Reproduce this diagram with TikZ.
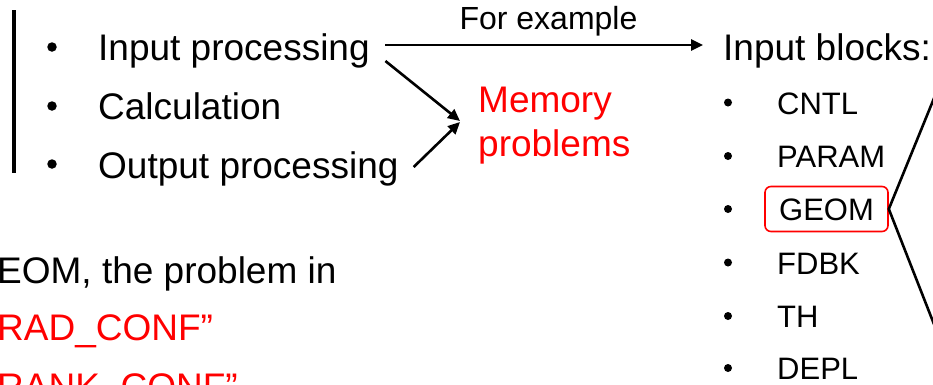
\documentclass[tikz,border=0pt]{standalone}
\usepackage{fontspec}
\setmainfont{Liberation Sans}
\usetikzlibrary{arrows.meta}
\definecolor{pptred}{RGB}{255,0,0}
\tikzset{
  big/.style={font=\fontsize{37}{44}\selectfont, inner sep=0pt, anchor=base west},
  small/.style={font=\fontsize{31}{37}\selectfont, inner sep=0pt, anchor=base west},
  lbl/.style={font=\fontsize{32}{38}\selectfont, inner sep=0pt, anchor=base},
  bul/.style={circle, fill=black, inner sep=0pt, minimum size=9.5pt},
  sbul/.style={circle, fill=black, inner sep=0pt, minimum size=8pt},
  arr/.style={line width=2.6pt, -{Triangle[length=12pt,width=11pt]}},
  ln/.style={line width=2.6pt},
  hl/.style={draw=pptred, line width=1.6pt, rounded corners=6pt, font=\fontsize{31}{37}\selectfont,
             inner ysep=11pt, inner xsep=0pt, text height=23pt, text depth=0pt, minimum width=123pt, anchor=base}
}
\begin{document}
\begin{tikzpicture}[x=1pt,y=-1pt]
\useasboundingbox (0,0) rectangle (933,384);
\clip (0,0) rectangle (933,384);
% left bar
\draw[line width=3.5pt] (14,10) -- (14,173);
% main list
\node[bul] (b1) at (52,47) {};
\node[bul] (b2) at (52,106) {};
\node[bul] (b3) at (52,164) {};
\node[big] (inproc) at (98,60) {Input processing};
\node[big] (calc) at (98,119.5) {Calculation};
\node[big] (outproc) at (98,178) {Output processing};
% memory problems
\node[big, text=pptred] (mem) at (478,112) {Memory};
\node[big, text=pptred] (mem2) at (478,156) {problems};
% input blocks
\node[big] (inblocks) at (723,60) {Input blocks:};
\node[lbl] (example) at (548.5,29) {For example};
\draw[arr] ([shift={(15.5,-15)}]inproc.base east) -- ([shift={(-20,-15)}]inblocks.base west);
\draw[arr] ([shift={(15.5,1)}]inproc.base east) -- ([shift={(-18,9)}]mem.base west);
\draw[arr] ([shift={(15,-11)}]outproc.base east) -- ([shift={(-18,10)}]mem.base west);
% blocks list
\node[sbul] (s1) at (728,102.5) {};
\node[sbul] (s2) at (728,156) {};
\node[sbul] (s3) at (728,209) {};
\node[sbul] (s4) at (728,262.5) {};
\node[sbul] (s5) at (728,316) {};
\node[sbul] (s6) at (728,368) {};
\node[small] (cntl) at (777,114) {CNTL};
\node[small] (param) at (777,167.5) {PARAM};
\node[hl] (geom) at (826.5,220.5) {GEOM};
\node[small] (fdbk) at (777,274) {FDBK};
\node[small] (th) at (777,327) {TH};
\node[small] (depl) at (777,379) {DEPL};
\coordinate (gup) at (950,59);
\coordinate (gdown) at (950,365);
\draw[ln] (gup) -- (geom.east) -- (gdown);
% bottom-left text
\node[big] (t1) at (-3,283) {EOM, the problem in};
\node[big, text=pptred] (t2) at (-3,340) {RAD\_CONF”};
\node[big, text=pptred] (t3) at (-3,399) {RANK\_CONF”};
\end{tikzpicture}
\end{document}
